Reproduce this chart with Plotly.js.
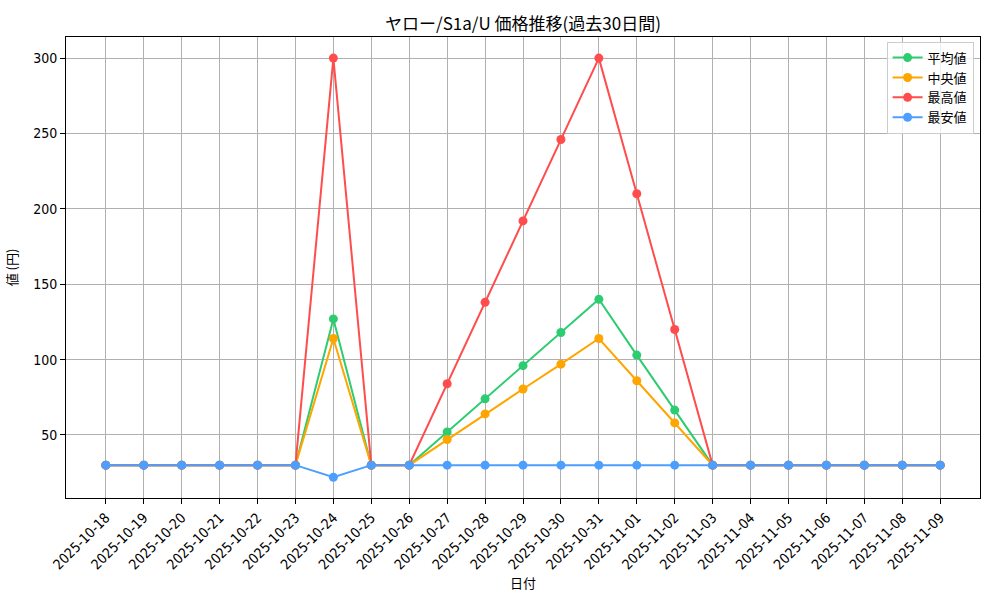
<!DOCTYPE html>
<html>
<head>
<meta charset="utf-8">
<script src="https://cdn.plot.ly/plotly-3.0.1.min.js"></script>
<style>
  body { margin: 0; background: #fff; }
  #chart { width: 1000px; height: 600px; }
</style>
</head>
<body>
<div id="chart"></div>
<script>
const dates = [
  '2025-10-18', '2025-10-19', '2025-10-20', '2025-10-21', '2025-10-22', '2025-10-23',
  '2025-10-24', '2025-10-25', '2025-10-26', '2025-10-27', '2025-10-28', '2025-10-29',
  '2025-10-30', '2025-10-31', '2025-11-01', '2025-11-02', '2025-11-03', '2025-11-04',
  '2025-11-05', '2025-11-06', '2025-11-07', '2025-11-08', '2025-11-09'
];
const avgPrice = [30, 30, 30, 30, 30, 30, 127, 30, 30, 52, 74, 96, 118, 140, 103, 66.5, 30, 30, 30, 30, 30, 30, 30];
const medianPrice = [30, 30, 30, 30, 30, 30, 114, 30, 30, 47, 64, 80.5, 97, 114, 86, 58, 30, 30, 30, 30, 30, 30, 30];
const maxPrice = [30, 30, 30, 30, 30, 30, 300, 30, 30, 84, 138, 192, 246, 300, 210, 120, 30, 30, 30, 30, 30, 30, 30];
const minPrice = [30, 30, 30, 30, 30, 30, 22, 30, 30, 30, 30, 30, 30, 30, 30, 30, 30, 30, 30, 30, 30, 30, 30];

const font = '"Noto Sans CJK JP", "DejaVu Sans", sans-serif';
const tickFont = '"Liberation Sans Narrow", "DejaVu Sans Condensed", "Noto Sans CJK JP", sans-serif';

function series(name, y, color) {
  return {
    type: 'scatter', mode: 'lines+markers', name: name,
    x: dates.map((d, i) => i), y: y,
    line: { color: color, width: 2 },
    marker: { color: color, size: 9 }
  };
}

const traces = [
  series('平均値', avgPrice, '#2ecc71'),
  series('中央値', medianPrice, '#ffa500'),
  series('最高値', maxPrice, '#ff4d4d'),
  series('最安値', minPrice, '#4d9fff')
];

const layout = {
  width: 1000, height: 600,
  margin: { l: 66, r: 20, t: 37, b: 102 },
  paper_bgcolor: '#fff', plot_bgcolor: '#fff',
  font: { family: font, size: 12, color: '#000' },
  title: { text: 'ヤロー/S1a/U 価格推移(過去30日間)', font: { size: 17 }, x: 0.523, xanchor: 'center', y: 0.96, yanchor: 'middle' },
  showlegend: true,
  legend: {
    x: 0.993, y: 0.99, xanchor: 'right', yanchor: 'top',
    bordercolor: '#cccccc', borderwidth: 1, bgcolor: 'rgba(255,255,255,0.8)',
    font: { size: 13 }, tracegroupgap: 2
  },
  xaxis: {
    title: { text: '日付', font: { size: 13 }, standoff: 3 },
    tickmode: 'array', tickvals: dates.map((d, i) => i), ticktext: dates,
    tickangle: -45,
    tickfont: { family: tickFont, size: 14 },
    range: [-1.05, 23.05],
    showgrid: true, gridcolor: '#b0b0b0', gridwidth: 1,
    showline: true, linecolor: '#000', linewidth: 1, mirror: true,
    ticks: 'outside', ticklen: 5, tickcolor: '#000',
    zeroline: false
  },
  yaxis: {
    title: { text: '値 (円)', font: { size: 13 }, standoff: 12 },
    range: [8.2, 314],
    tickvals: [50, 100, 150, 200, 250, 300],
    tickfont: { family: tickFont, size: 14 },
    showgrid: true, gridcolor: '#b0b0b0', gridwidth: 1,
    showline: true, linecolor: '#000', linewidth: 1, mirror: true,
    ticks: 'outside', ticklen: 5, tickcolor: '#000',
    zeroline: false
  }
};

Plotly.newPlot('chart', traces, layout, { displayModeBar: false, staticPlot: true });
</script>
</body>
</html>
